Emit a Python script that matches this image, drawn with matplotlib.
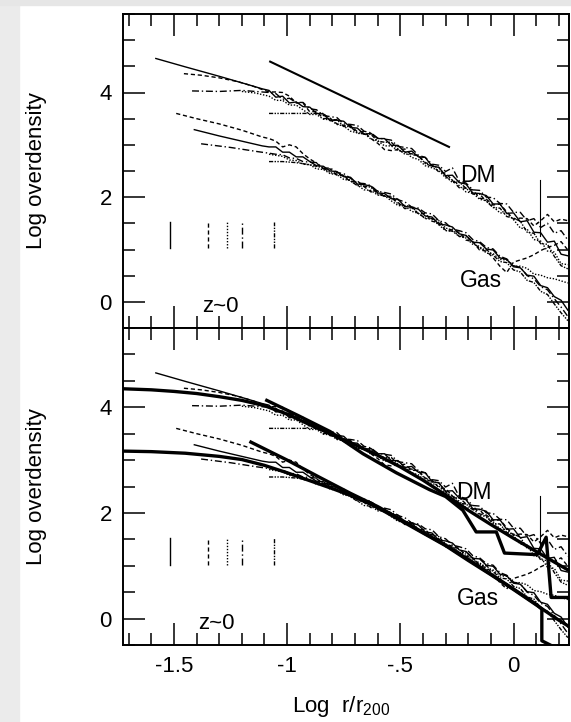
import numpy as np
import matplotlib
matplotlib.use("Agg")
import matplotlib.pyplot as plt
from matplotlib.patches import Rectangle
from matplotlib.ticker import MultipleLocator

plt.rcParams["font.family"] = ["Liberation Sans", "DejaVu Sans"]
plt.rcParams["mathtext.default"] = "regular"

# radial bins, log r/r200
r_bins = [-1.08, -1.05, -1.02, -0.99, -0.96, -0.93, -0.90, -0.87, -0.84, -0.81,
          -0.78, -0.75, -0.72, -0.69, -0.66, -0.63, -0.60, -0.57, -0.54, -0.51,
          -0.48, -0.45, -0.42, -0.39, -0.36, -0.33, -0.30, -0.27, -0.24, -0.21,
          -0.18, -0.15, -0.12, -0.09, -0.06, -0.03, 0.00, 0.03, 0.06, 0.09,
          0.12, 0.15, 0.18, 0.21, 0.24]

# mean of the profile bands (log overdensity)
dm_band = [3.98, 3.93, 3.88, 3.83, 3.78, 3.73, 3.67, 3.62, 3.56, 3.50,
           3.45, 3.39, 3.34, 3.28, 3.23, 3.17, 3.12, 3.06, 3.01, 2.95,
           2.89, 2.83, 2.76, 2.69, 2.61, 2.53, 2.44, 2.36, 2.28, 2.20,
           2.12, 2.04, 1.96, 1.89, 1.82, 1.74, 1.66, 1.56, 1.47, 1.39,
           1.30, 1.22, 1.13, 1.03, 0.93]
gas_band = [2.96, 2.92, 2.88, 2.83, 2.78, 2.73, 2.68, 2.63, 2.57, 2.52,
            2.46, 2.40, 2.34, 2.28, 2.22, 2.16, 2.10, 2.04, 1.98, 1.92,
            1.85, 1.79, 1.72, 1.66, 1.59, 1.52, 1.45, 1.38, 1.31, 1.24,
            1.17, 1.09, 1.01, 0.94, 0.86, 0.78, 0.71, 0.63, 0.54, 0.45,
            0.36, 0.26, 0.16, 0.05, -0.06]

# each run's offset from the band
dm_dev_a = [0.06, -0.02, 0.05, -0.03, 0.04, 0.00, 0.05, -0.02, 0.03, -0.04,
            0.02, 0.06, -0.01, 0.04, -0.03, 0.05, 0.00, 0.06, -0.02, 0.04,
            -0.03, 0.05, 0.01, 0.07, -0.02, 0.04, -0.03, 0.06, 0.00, 0.05,
            -0.04, 0.03, 0.07, -0.02, 0.05, -0.05, 0.04, -0.03, 0.08, -0.06,
            0.02, -0.08, 0.03, -0.12, -0.05]
dm_dev_b = [0.03, 0.08, 0.12, 0.10, 0.02, 0.07, -0.04, 0.02, -0.06, 0.01,
            -0.05, -0.02, 0.03, -0.03, 0.02, -0.05, -0.09, -0.15, -0.12, -0.04,
            0.03, -0.02, 0.04, -0.03, 0.01, -0.05, 0.02, -0.04, -0.10, -0.03,
            0.02, -0.06, 0.00, -0.04, 0.05, -0.02, -0.08, 0.04, 0.12, 0.06,
            0.25, 0.45, 0.40, 0.55, 0.62]
dm_dev_c = [-0.05, -0.08, -0.03, -0.07, -0.02, -0.06, -0.09, -0.04, -0.07, -0.02,
            -0.06, -0.03, -0.08, -0.05, -0.01, -0.06, -0.04, -0.08, -0.03, -0.06,
            -0.02, -0.07, -0.04, -0.09, -0.05, -0.02, -0.07, -0.03, -0.06, -0.10,
            -0.04, -0.08, -0.03, -0.07, -0.12, -0.05, -0.09, -0.15, -0.08, -0.20,
            -0.14, -0.25, -0.18, -0.30, -0.22]
dm_dev_d = [0.02, 0.05, -0.01, 0.06, 0.03, 0.08, 0.02, 0.05, 0.00, 0.04,
            0.07, 0.01, 0.05, 0.09, 0.03, 0.06, 0.01, 0.05, 0.08, 0.02,
            0.06, 0.10, 0.04, 0.07, 0.02, 0.08, 0.05, 0.20, 0.03, 0.07,
            0.02, 0.09, 0.04, 0.10, 0.06, 0.13, 0.05, 0.15, 0.08, 0.20,
            0.12, 0.28, 0.18, 0.33, 0.25]
dm_dev_e = [-0.38, -0.33, -0.28, -0.23, -0.18, -0.13, -0.07, -0.02, 0.04, -0.02,
            0.03, -0.04, 0.01, -0.06, -0.02, 0.03, -0.05, -0.01, 0.04, -0.03,
            -0.07, 0.00, 0.03, -0.05, -0.02, 0.04, -0.04, -0.08, 0.01, -0.03,
            -0.06, 0.02, -0.04, -0.09, -0.03, -0.11, -0.06, -0.02, -0.14, -0.08,
            -0.19, -0.12, -0.26, -0.34, -0.30]

gas_dev_a = [0.00, 0.04, -0.02, 0.03, -0.01, 0.04, 0.00, -0.03, 0.02, -0.02,
             0.03, -0.01, 0.04, -0.03, 0.02, 0.05, -0.02, 0.03, -0.01, 0.04,
             -0.03, 0.02, 0.05, -0.02, 0.03, -0.04, 0.02, 0.05, -0.01, 0.03,
             -0.03, 0.04, 0.00, 0.05, -0.02, 0.03, -0.04, 0.02, -0.03, 0.04,
             -0.05, 0.01, -0.06, -0.02, -0.10]
gas_dev_b = [0.16, 0.15, 0.08, 0.17, 0.18, 0.10, 0.05, 0.02, -0.03, 0.02,
             -0.04, 0.01, -0.05, 0.03, -0.02, -0.06, 0.02, -0.03, 0.04, -0.02,
             -0.07, 0.01, -0.04, 0.03, -0.05, -0.01, -0.08, -0.03, 0.02, -0.06,
             -0.02, -0.10, -0.04, -0.10, -0.18, -0.22, 0.05, 0.17, 0.30, 0.45,
             0.62, 0.78, 0.92, 1.10, 1.05]
gas_dev_c = [-0.14, -0.12, -0.10, -0.12, -0.08, -0.10, -0.06, -0.09, -0.04, -0.07,
             -0.03, -0.06, -0.02, -0.05, -0.08, -0.03, -0.06, -0.01, -0.05, -0.08,
             -0.02, -0.06, -0.03, -0.07, -0.01, -0.05, -0.09, -0.03, -0.06, -0.02,
             -0.07, -0.03, -0.08, -0.02, -0.05, 0.02, -0.03, 0.05, 0.10, 0.08,
             0.15, 0.20, 0.28, 0.35, 0.42]
gas_dev_d = [-0.12, -0.10, -0.07, -0.08, -0.04, -0.05, -0.01, 0.03, -0.02, 0.04,
             0.01, 0.05, 0.02, -0.01, 0.04, 0.06, 0.01, 0.05, 0.08, 0.03,
             0.06, 0.02, 0.07, 0.04, 0.09, 0.03, 0.06, 0.01, 0.05, 0.08,
             0.02, 0.06, 0.03, 0.07, 0.01, 0.04, -0.02, 0.03, -0.04, -0.01,
             -0.07, -0.03, -0.10, -0.15, -0.22]
gas_dev_e = [-0.28, -0.24, -0.20, -0.16, -0.12, -0.09, -0.06, -0.04, -0.01, -0.05,
             -0.02, 0.02, -0.03, -0.06, -0.01, 0.03, -0.04, -0.02, 0.02, -0.05,
             -0.01, 0.03, -0.03, -0.06, 0.00, 0.03, -0.04, -0.01, -0.06, 0.02,
             -0.03, -0.07, -0.01, -0.05, -0.09, -0.03, -0.10, -0.06, -0.13, -0.08,
             -0.16, -0.12, -0.20, -0.26, -0.30]

# inner parts of each run, inside the shared bins
dm_in_x = [[-1.58, -1.45, -1.30, -1.18, -1.11],
           [-1.456, -1.38, -1.30, -1.22, -1.15],
           [-1.20, -1.14],
           [-1.42, -1.30, -1.20, -1.11],
           []]
dm_in_y = [[4.65, 4.49, 4.31, 4.16, 4.07],
           [4.36, 4.33, 4.28, 4.21, 4.12],
           [4.02, 3.99],
           [4.03, 4.02, 4.04, 4.01],
           []]
gas_in_x = [[-1.41, -1.30, -1.20, -1.11],
            [-1.49, -1.40, -1.30, -1.20, -1.11],
            [],
            [-1.38, -1.25, -1.13],
            []]
gas_in_y = [[3.29, 3.17, 3.07, 2.98],
            [3.60, 3.50, 3.40, 3.28, 3.15],
            [],
            [3.02, 2.95, 2.87],
            []]

# resolution marks
res_x = [-1.518, -1.350, -1.267, -1.200, -1.059]
res_y = [1.02, 1.53]

spike_x = [0.115, 0.115]
spike_y = [1.25, 2.32]

# r^-2 reference line (upper panel)
ref_x = [-1.075, -0.285]
ref_y = [4.59, 2.96]

# thick curves (lower panel)
fit_dm_x = [-1.725, -1.60, -1.50, -1.40, -1.30, -1.20, -1.10, -1.00, -0.90, -0.80, -0.70,
            -0.60, -0.50, -0.40, -0.30, -0.20, -0.10, 0.00, 0.10, 0.20, 0.245]
fit_dm_y = [4.35, 4.33, 4.30, 4.26, 4.20, 4.13, 4.03, 3.87, 3.67, 3.48, 3.29,
            3.09, 2.87, 2.62, 2.34, 2.05, 1.78, 1.52, 1.27, 1.02, 0.91]
step_dm_x = [-1.09, -0.95, -0.81, -0.665, -0.518, -0.371, -0.30, -0.224, -0.165,
             -0.076, -0.04, 0.105, 0.144, 0.166, 0.245]
step_dm_y = [4.13, 3.84, 3.54, 3.12, 2.76, 2.44, 2.31, 2.05, 1.64,
             1.64, 1.24, 1.21, 1.54, 0.40, 0.40]
fit_gas_x = [-1.725, -1.60, -1.45, -1.30, -1.20, -1.10, -1.00, -0.90, -0.80, -0.70,
             -0.60, -0.50, -0.40, -0.30, -0.20, -0.10, 0.00, 0.10, 0.20, 0.245]
fit_gas_y = [3.17, 3.16, 3.13, 3.07, 3.01, 2.90, 2.76, 2.61, 2.46, 2.30,
             2.10, 1.86, 1.62, 1.38, 1.10, 0.83, 0.55, 0.26, -0.03, -0.15]
step_gas_x = [-1.16, -1.00, -0.855, -0.72, -0.60, -0.50, -0.40, -0.30, -0.20,
              -0.10, 0.00, 0.10, 0.125, 0.125, 0.19]
step_gas_y = [3.34, 3.00, 2.67, 2.37, 2.12, 1.88, 1.63, 1.39, 1.12,
              0.84, 0.56, 0.27, 0.18, -0.42, -0.56]

xticks = [-1.5, -1.0, -0.5, 0.0]
xtick_labels = ["-1.5", "-1", "-.5", "0"]
yticks = [0, 2, 4]

styles = ["-", (0, (3, 2)), (0, (1, 1.2)), (0, (5, 2, 1, 2)), (0, (3, 1, 1, 1, 1, 1))]
dm_dev = [dm_dev_a, dm_dev_b, dm_dev_c, dm_dev_d, dm_dev_e]
gas_dev = [gas_dev_a, gas_dev_b, gas_dev_c, gas_dev_d, gas_dev_e]


def draw_runs(ax):
    for k in range(5):
        dm = dm_in_y[k] + list(np.add(dm_band, dm_dev[k]))
        gas = gas_in_y[k] + list(np.add(gas_band, gas_dev[k]))
        ax.plot(dm_in_x[k] + r_bins, dm, color="k", lw=1.0, ls=styles[k])
        ax.plot(gas_in_x[k] + r_bins, gas, color="k", lw=1.0, ls=styles[k])
        ax.plot([res_x[k], res_x[k]], res_y, color="k", lw=1.0, ls=styles[k])
    ax.plot(spike_x, spike_y, color="k", lw=0.8)


def style_axes(ax, bottom_labels):
    ax.set_xlim(-1.725, 0.245)
    ax.set_ylim(-0.5, 5.5)
    ax.set_xticks(xticks, xtick_labels)
    ax.set_yticks(yticks, [str(v) for v in yticks])
    ax.xaxis.set_minor_locator(MultipleLocator(0.1))
    ax.yaxis.set_minor_locator(MultipleLocator(0.5))
    ax.tick_params(which="both", direction="in", top=True, right=True,
                   width=1.1, labelsize=16, pad=8, labelbottom=bottom_labels)
    ax.tick_params(which="major", length=16)
    ax.tick_params(which="minor", length=8.5)
    for s in ax.spines.values():
        s.set_linewidth(1.4)
    ax.set_ylabel("Log overdensity", fontsize=16)
    ax.yaxis.set_label_coords(-0.17, 0.5)


fig = plt.figure(figsize=(5.71, 7.22), dpi=100)
fig.add_artist(Rectangle((0, 0), 19 / 571, 1, transform=fig.transFigure,
                         color="#ebebeb", zorder=0))
fig.add_artist(Rectangle((0, 1 - 5 / 722), 1, 5 / 722, transform=fig.transFigure,
                         color="#e6e6e6", zorder=0))

ax1 = fig.add_axes([123 / 571, 1 - 328 / 722, 446 / 571, 314 / 722])
ax2 = fig.add_axes([123 / 571, 1 - 645 / 722, 446 / 571, 317 / 722])

# upper panel
draw_runs(ax1)
ax1.plot(ref_x, ref_y, color="k", lw=1.5)
ax1.text(-0.238, 2.29, "DM", fontsize=16.5)
ax1.text(-0.238, 0.29, "Gas", fontsize=16.5)
ax1.text(-1.377, -0.19, "z~0", fontsize=16)
style_axes(ax1, False)

# lower panel
draw_runs(ax2)
for xs, ys in [(fit_dm_x, fit_dm_y), (step_dm_x, step_dm_y),
               (fit_gas_x, fit_gas_y), (step_gas_x, step_gas_y)]:
    ax2.plot(xs, ys, color="k", lw=2.4)
ax2.text(-0.252, 2.27, "DM", fontsize=16.5)
ax2.text(-0.252, 0.25, "Gas", fontsize=16.5)
ax2.text(-1.395, -0.19, "z~0", fontsize=16)
style_axes(ax2, True)
ax2.set_xlabel("Log  r/r$_{200}$", fontsize=16)
ax2.xaxis.set_label_coords(0.49, -0.155)

fig.savefig("out.png", dpi=100)
